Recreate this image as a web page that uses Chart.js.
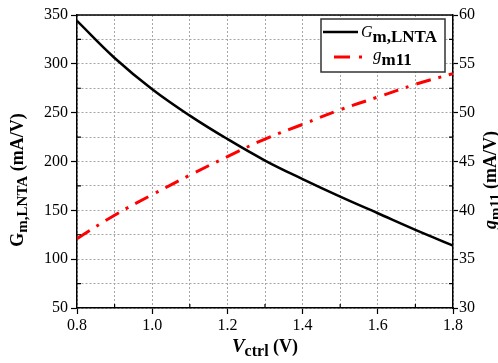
<!DOCTYPE html>
<html>
<head>
<meta charset="utf-8">
<script src="https://cdn.jsdelivr.net/npm/chart.js@4.4.0/dist/chart.umd.min.js"></script>
<style>
  html, body { margin: 0; padding: 0; background: #fff; }
  #wrap { width: 498px; height: 363px; }
</style>
</head>
<body>
<div id="wrap"><canvas id="gm-chart" width="498" height="363"></canvas></div>
<script>
// values
const vctrl = [0.8, 0.9, 1.0, 1.1, 1.2, 1.3, 1.4, 1.5, 1.6, 1.7, 1.8];
const gmLnta = [344, 306, 274, 247, 223, 201, 182, 164, 147, 130, 114];
const gm11 = [37.1, 39.5, 41.6, 43.6, 45.5, 47.3, 48.8, 50.3, 51.6, 52.9, 54.0];

const SERIF = "'Liberation Serif', 'Times New Roman', serif";
const GRID_COLOR = '#a6a6a6';

const xMajor = v => Math.round(v * 10) % 2 === 0;
const yMajor = v => Math.round(v) % 50 === 0;
const y1Major = v => Math.round(v * 10) % 50 === 0;

// draw a row of text pieces, some of them lowered as subscripts
function richText(ctx, parts, x, y, rot) {
  ctx.save();
  ctx.translate(x, y);
  ctx.rotate(rot);
  ctx.textBaseline = 'alphabetic';
  ctx.textAlign = 'left';
  let total = 0;
  parts.forEach(p => { ctx.font = p.font; total += ctx.measureText(p.t).width; });
  let cx = -total / 2;
  parts.forEach(p => {
    ctx.font = p.font;
    ctx.fillStyle = '#000';
    ctx.fillText(p.t, cx, p.dy || 0);
    cx += ctx.measureText(p.t).width;
  });
  ctx.restore();
}

const decorations = {
  id: 'decorations',
  afterDraw(chart) {
    const ctx = chart.ctx;
    const a = chart.chartArea;
    const sx = chart.scales.x, sy = chart.scales.y, sy1 = chart.scales.y1;

    // top frame
    ctx.save();
    ctx.strokeStyle = '#000';
    ctx.lineWidth = 1.5;
    ctx.beginPath();
    ctx.moveTo(a.left, a.top);
    ctx.lineTo(a.right, a.top);
    ctx.stroke();

    // minor ticks pointing inward
    ctx.lineWidth = 1.2;
    ctx.beginPath();
    sx.ticks.forEach(t => {
      if (!xMajor(t.value)) {
        const px = sx.getPixelForValue(t.value);
        ctx.moveTo(px, a.bottom); ctx.lineTo(px, a.bottom - 4);
      }
    });
    sy.ticks.forEach(t => {
      if (!yMajor(t.value)) {
        const py = sy.getPixelForValue(t.value);
        ctx.moveTo(a.left, py); ctx.lineTo(a.left + 4, py);
      }
    });
    sy1.ticks.forEach(t => {
      if (!y1Major(t.value)) {
        const py = sy1.getPixelForValue(t.value);
        ctx.moveTo(a.right, py); ctx.lineTo(a.right - 4, py);
      }
    });
    ctx.stroke();

    // legend box
    ctx.fillStyle = '#fff';
    ctx.fillRect(321, 19, 124, 53);
    ctx.strokeStyle = '#333';
    ctx.lineWidth = 1.5;
    ctx.strokeRect(321, 19, 124, 53);

    ctx.strokeStyle = '#000';
    ctx.lineWidth = 2.5;
    ctx.beginPath();
    ctx.moveTo(323, 32); ctx.lineTo(358, 32);
    ctx.stroke();

    ctx.strokeStyle = '#ff0000';
    ctx.lineWidth = 3;
    ctx.beginPath();
    ctx.moveTo(334, 57); ctx.lineTo(350, 57);
    ctx.moveTo(359, 57); ctx.lineTo(362, 57);
    ctx.stroke();
    ctx.restore();

    ctx.save();
    ctx.fillStyle = '#000';
    ctx.textBaseline = 'alphabetic';
    ctx.font = 'italic 16px ' + SERIF;
    ctx.fillText('G', 361, 37);
    let w = ctx.measureText('G').width;
    ctx.font = 'bold 17px ' + SERIF;
    ctx.fillText('m,LNTA', 361 + w, 42);
    ctx.font = 'italic 17px ' + SERIF;
    ctx.fillText('g', 373, 60);
    w = ctx.measureText('g').width;
    ctx.font = 'bold 17px ' + SERIF;
    ctx.fillText('m11', 373 + w, 65);
    ctx.restore();

    // axis titles
    const midY = 180;
    richText(ctx, [
      { t: 'G', font: 'bold 18px ' + SERIF },
      { t: 'm,LNTA', font: 'bold 15px ' + SERIF, dy: 4 },
      { t: ' (mA/V)', font: 'bold 18px ' + SERIF }
    ], 23, midY, -Math.PI / 2);
    richText(ctx, [
      { t: 'g', font: 'italic bold 18px ' + SERIF },
      { t: 'm11', font: 'bold 15px ' + SERIF, dy: 4 },
      { t: ' (mA/V)', font: 'bold 18px ' + SERIF }
    ], 496, midY, -Math.PI / 2);
    richText(ctx, [
      { t: 'V', font: 'italic bold 19px ' + SERIF },
      { t: 'ctrl', font: 'bold 16px ' + SERIF, dy: 4 },
      { t: ' (V)', font: 'bold 18px ' + SERIF }
    ], (a.left + a.right) / 2, 352, 0);
  }
};

new Chart(document.getElementById('gm-chart'), {
  type: 'line',
  data: {
    datasets: [{
      label: 'Gm,LNTA',
      data: vctrl.map((v, i) => ({ x: v, y: gmLnta[i] })),
      yAxisID: 'y',
      borderColor: '#000',
      borderWidth: 2.5,
      pointRadius: 0,
      tension: 0.4
    }, {
      label: 'gm11',
      data: vctrl.map((v, i) => ({ x: v, y: gm11[i] })),
      yAxisID: 'y1',
      borderColor: '#ff0000',
      borderWidth: 3,
      borderDash: [15, 8, 3, 8],
      pointRadius: 0,
      tension: 0.4
    }]
  },
  options: {
    animation: false, responsive: false, maintainAspectRatio: false,
    layout: { padding: { top: 15, left: 0, right: 0, bottom: 0 } },
    plugins: { legend: { display: false }, tooltip: { enabled: false } },
    scales: {
      x: {
        type: 'linear', min: 0.8, max: 1.8,
        afterFit: s => { s.height = 55; },
        ticks: {
          stepSize: 0.1, autoSkip: false, maxRotation: 0, padding: 2,
          color: '#000', font: { family: SERIF, size: 16 },
          callback: v => xMajor(v) ? v.toFixed(1) : ''
        },
        grid: {
          color: GRID_COLOR, lineWidth: 1, tickLength: 6, tickWidth: 1.2,
          tickColor: c => (c.tick && xMajor(c.tick.value)) ? '#000' : 'rgba(0,0,0,0)'
        },
        border: { color: '#000', width: 1.5, dash: [2, 2] }
      },
      y: {
        position: 'left', min: 50, max: 350,
        afterFit: s => { s.width = 77; },
        ticks: {
          stepSize: 25, autoSkip: false, padding: 3,
          color: '#000', font: { family: SERIF, size: 16 },
          callback: v => yMajor(v) ? v : ''
        },
        grid: {
          color: GRID_COLOR, lineWidth: 1, tickLength: 6, tickWidth: 1.2,
          tickColor: c => (c.tick && yMajor(c.tick.value)) ? '#000' : 'rgba(0,0,0,0)'
        },
        border: { color: '#000', width: 1.5, dash: [2, 2] }
      },
      y1: {
        position: 'right', min: 30, max: 60,
        afterFit: s => { s.width = 45; },
        ticks: {
          stepSize: 2.5, autoSkip: false, padding: 1,
          color: '#000', font: { family: SERIF, size: 16 },
          callback: v => y1Major(v) ? v : ''
        },
        grid: {
          drawOnChartArea: false, tickLength: 5, tickWidth: 1.2,
          tickColor: c => (c.tick && y1Major(c.tick.value)) ? '#000' : 'rgba(0,0,0,0)'
        },
        border: { color: '#000', width: 1.5 }
      }
    }
  },
  plugins: [decorations]
});
</script>
</body>
</html>
